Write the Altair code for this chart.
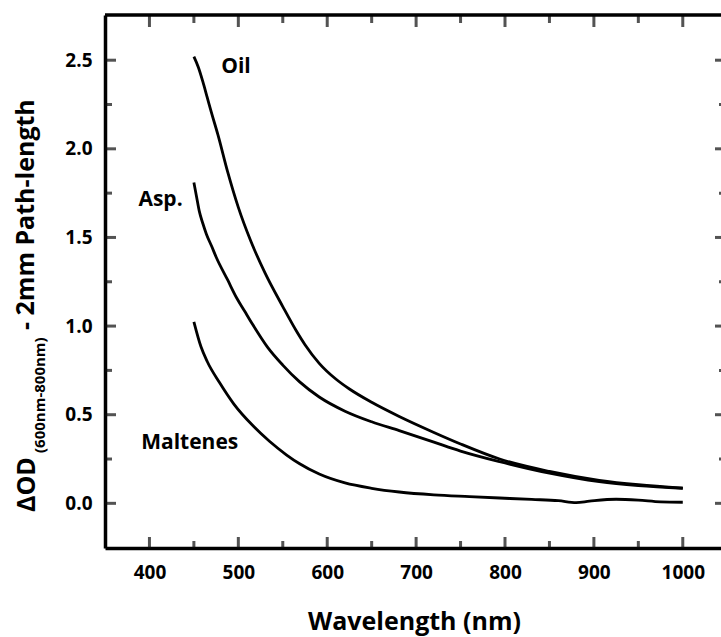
import altair as alt
import pandas as pd

# ---- data ----
oil_nm = [450, 455, 460, 465, 470, 477, 488, 500, 514, 530, 550, 565, 575, 591, 610, 625, 650, 681, 720, 750, 794, 850, 906, 950, 1000]
oil_od = [2.52, 2.46, 2.38, 2.29, 2.20, 2.08, 1.87, 1.67, 1.48, 1.30, 1.11, 0.975, 0.895, 0.79, 0.70, 0.645, 0.57, 0.49, 0.40, 0.335, 0.25, 0.18, 0.13, 0.105, 0.086]

asp_nm = [450, 453, 456, 460, 464, 470, 475, 488, 498, 507, 516, 533, 550, 569, 591, 620, 650, 681, 720, 750, 794, 850, 906, 950, 1000]
asp_od = [1.81, 1.73, 1.65, 1.58, 1.52, 1.45, 1.39, 1.26, 1.16, 1.085, 1.01, 0.88, 0.78, 0.685, 0.60, 0.52, 0.46, 0.41, 0.345, 0.295, 0.235, 0.17, 0.122, 0.10, 0.085]

mal_nm = [450, 458, 465, 479, 495, 516, 535, 554, 569, 591, 620, 650, 681, 720, 760, 794, 830, 860, 880, 895, 925, 950, 975, 1000]
mal_od = [1.024, 0.883, 0.80, 0.68, 0.56, 0.44, 0.35, 0.274, 0.223, 0.165, 0.115, 0.085, 0.064, 0.048, 0.038, 0.03, 0.022, 0.015, 0.004, 0.012, 0.023, 0.018, 0.008, 0.006]

x_major = [400, 500, 600, 700, 800, 900, 1000]
x_minor = [450, 550, 650, 750, 850, 950]
y_major = [0.0, 0.5, 1.0, 1.5, 2.0, 2.5]
y_minor = [0.25, 0.75, 1.25, 1.75, 2.25]

label_text = ["Oil", "Asp.", "Maltenes"]
label_nm = [480.7, 387.6, 390.7]
label_od = [2.43, 1.68, 0.306]

# ---- layout ----
W, H = 616, 533
FONT = "Open Sans"
INK = "#0a0a0a"
MAJ, MIN = 11, 7

rows = []
for name, nms, ods in [("Oil", oil_nm, oil_od), ("Asp.", asp_nm, asp_od), ("Maltenes", mal_nm, mal_od)]:
    for a, b in zip(nms, ods):
        rows.append({"series": name, "nm": a, "value": b})
df = pd.DataFrame(rows)

xs = alt.Scale(domain=[350, 1043], nice=False, zero=False)
ys = alt.Scale(domain=[-0.252, 2.755], nice=False, zero=False)

xaxis = alt.Axis(values=x_major, format="d", title="Wavelength (nm)", ticks=False, tickSize=0, grid=False,
                 domain=True, domainWidth=3.5, domainColor="black",
                 labelFont=FONT, labelFontWeight="bold", labelFontSize=19, labelColor="black",
                 labelPadding=15,
                 titleFont=FONT, titleFontWeight="bold", titleFontSize=25, titleColor="black",
                 titleBaseline="alphabetic", titleAlign="center", titleX=W / 2 + 1, titleY=81)
yaxis = alt.Axis(values=y_major, format=".1f", title=None, ticks=False, tickSize=0, grid=False,
                 domain=True, domainWidth=3.5, domainColor="black",
                 labelFont=FONT, labelFontWeight="bold", labelFontSize=19, labelColor="black",
                 labelPadding=13)

X = alt.X("nm:Q", scale=xs, axis=xaxis)
Y = alt.Y("value:Q", scale=ys, axis=yaxis)

lines = alt.Chart(df).mark_line(color="black", strokeWidth=2.8, interpolate="monotone").encode(
    x=X, y=Y, detail="series:N")

xmaj = pd.DataFrame({"nm": x_major})
xmin = pd.DataFrame({"nm": x_minor})
ymaj = pd.DataFrame({"value": y_major})
ymin = pd.DataFrame({"value": y_minor})


def vtick(data, length, center):
    return alt.Chart(data).mark_tick(orient="vertical", size=length, thickness=3, color=INK).encode(
        x=X, y=alt.value(center))


def htick(data, length, center):
    return alt.Chart(data).mark_tick(orient="horizontal", size=length, thickness=3, color=INK).encode(
        y=Y, x=alt.value(center))


ticks = [
    vtick(xmaj, MAJ, H - MAJ / 2), vtick(xmin, MIN, H - MIN / 2),
    vtick(xmaj, MAJ + 1, (MAJ + 1) / 2), vtick(xmin, MIN + 1, (MIN + 1) / 2),
    htick(ymaj, MAJ, MAJ / 2), htick(ymin, MIN, MIN / 2),
    htick(ymaj, 12, W), htick(ymin, 4, W),
]

one = pd.DataFrame({"k": [0]})
top_spine = alt.Chart(one).mark_rule(color="black", strokeWidth=3.5).encode(
    x=alt.value(0), x2=alt.value(W), y=alt.value(0))

ldf = pd.DataFrame({"nm": label_nm, "value": label_od, "text": label_text})
labels = alt.Chart(ldf).mark_text(font=FONT, fontWeight="bold", fontSize=21, align="left",
                                  baseline="alphabetic", color="black").encode(x=X, y=Y, text="text:N")

yt1 = alt.Chart(one).mark_text(text="ΔOD", font=FONT, fontWeight="bold", fontSize=25, angle=270,
                               align="left", baseline="alphabetic", color="black").encode(
    x=alt.value(-70), y=alt.value(497))
yt2 = alt.Chart(one).mark_text(text="(600nm-800nm)", font=FONT, fontWeight="bold", fontSize=15, angle=270,
                               align="left", baseline="alphabetic", color="black").encode(
    x=alt.value(-60), y=alt.value(438))
yt3 = alt.Chart(one).mark_text(text="- 2mm Path-length", font=FONT, fontWeight="bold", fontSize=25, angle=270,
                               align="left", baseline="alphabetic", color="black").encode(
    x=alt.value(-71), y=alt.value(315))

chart = alt.layer(lines, *ticks, top_spine, labels, yt1, yt2, yt3).properties(
    width=W, height=H,
    autosize=alt.AutoSizeParams(type="none"),
    padding={"left": 105, "top": 15, "right": 0, "bottom": 89},
    background="white",
).configure_view(stroke=None)

chart.save("out.html", embed_options={"renderer": "svg", "actions": False})
